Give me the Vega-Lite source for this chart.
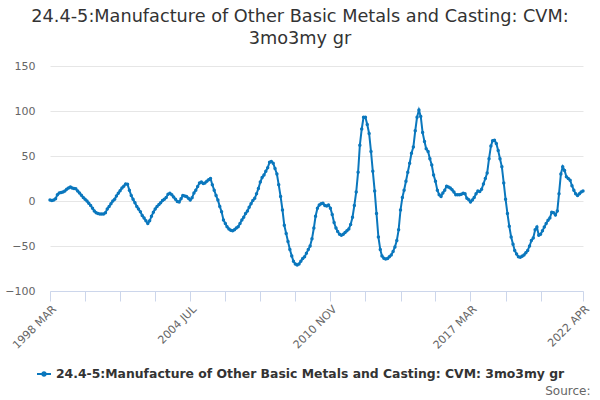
{
  "$schema": "https://vega.github.io/schema/vega-lite/v6.json",
  "autosize": "none",
  "width": 533,
  "height": 225,
  "padding": {"left": 50, "top": 66, "right": 17, "bottom": 109},
  "background": "white",
  "title": {
    "text": ["24.4-5:Manufacture of Other Basic Metals and Casting: CVM:", "3mo3my gr"],
    "anchor": "middle",
    "dx": -16.5,
    "offset": 12,
    "font": "DejaVu Sans",
    "fontSize": 17.7,
    "fontWeight": "normal",
    "color": "#333333",
    "lineHeight": 22
  },
  "data": {
    "format": {"parse": {"m": "utc:'%Y-%m'"}},
    "values": [
      {"m":"1998-03","v":1},{"m":"1998-04","v":0.5},{"m":"1998-05","v":1},{"m":"1998-06","v":2.5},{"m":"1998-07","v":7},{"m":"1998-08","v":9},{"m":"1998-09","v":9.5},{"m":"1998-10","v":10},{"m":"1998-11","v":11},{"m":"1998-12","v":13},
      {"m":"1999-01","v":14.5},{"m":"1999-02","v":15.5},{"m":"1999-03","v":14.5},{"m":"1999-04","v":14},{"m":"1999-05","v":13.5},{"m":"1999-06","v":11},{"m":"1999-07","v":9},{"m":"1999-08","v":6.5},{"m":"1999-09","v":4},{"m":"1999-10","v":2},{"m":"1999-11","v":0},{"m":"1999-12","v":-2.5},
      {"m":"2000-01","v":-5},{"m":"2000-02","v":-8},{"m":"2000-03","v":-11},{"m":"2000-04","v":-13},{"m":"2000-05","v":-14},{"m":"2000-06","v":-14.5},{"m":"2000-07","v":-14.5},{"m":"2000-08","v":-14.5},{"m":"2000-09","v":-13},{"m":"2000-10","v":-9},{"m":"2000-11","v":-6},{"m":"2000-12","v":-3},
      {"m":"2001-01","v":0},{"m":"2001-02","v":2},{"m":"2001-03","v":5.5},{"m":"2001-04","v":8.5},{"m":"2001-05","v":11.5},{"m":"2001-06","v":14.5},{"m":"2001-07","v":16.5},{"m":"2001-08","v":19},{"m":"2001-09","v":18.5},{"m":"2001-10","v":12},{"m":"2001-11","v":6},{"m":"2001-12","v":2},
      {"m":"2002-01","v":-2},{"m":"2002-02","v":-6},{"m":"2002-03","v":-9},{"m":"2002-04","v":-12},{"m":"2002-05","v":-16},{"m":"2002-06","v":-19},{"m":"2002-07","v":-22},{"m":"2002-08","v":-25},{"m":"2002-09","v":-22},{"m":"2002-10","v":-17},{"m":"2002-11","v":-12.5},{"m":"2002-12","v":-9},
      {"m":"2003-01","v":-6},{"m":"2003-02","v":-4},{"m":"2003-03","v":-2},{"m":"2003-04","v":0.5},{"m":"2003-05","v":2},{"m":"2003-06","v":4},{"m":"2003-07","v":7.5},{"m":"2003-08","v":8.5},{"m":"2003-09","v":7},{"m":"2003-10","v":4.5},{"m":"2003-11","v":2},{"m":"2003-12","v":-0.5},
      {"m":"2004-01","v":-1},{"m":"2004-02","v":2.5},{"m":"2004-03","v":6},{"m":"2004-04","v":5.5},{"m":"2004-05","v":5},{"m":"2004-06","v":3},{"m":"2004-07","v":1},{"m":"2004-08","v":3.5},{"m":"2004-09","v":9},{"m":"2004-10","v":12},{"m":"2004-11","v":16},{"m":"2004-12","v":20},
      {"m":"2005-01","v":21},{"m":"2005-02","v":19.5},{"m":"2005-03","v":20},{"m":"2005-04","v":22},{"m":"2005-05","v":23.5},{"m":"2005-06","v":25},{"m":"2005-07","v":18},{"m":"2005-08","v":12},{"m":"2005-09","v":6},{"m":"2005-10","v":1},{"m":"2005-11","v":-6},{"m":"2005-12","v":-12},
      {"m":"2006-01","v":-21},{"m":"2006-02","v":-25},{"m":"2006-03","v":-28.5},{"m":"2006-04","v":-31},{"m":"2006-05","v":-32.5},{"m":"2006-06","v":-33},{"m":"2006-07","v":-32},{"m":"2006-08","v":-30},{"m":"2006-09","v":-28.5},{"m":"2006-10","v":-25},{"m":"2006-11","v":-21},{"m":"2006-12","v":-18},
      {"m":"2007-01","v":-14},{"m":"2007-02","v":-11},{"m":"2007-03","v":-7},{"m":"2007-04","v":-3},{"m":"2007-05","v":0.5},{"m":"2007-06","v":3},{"m":"2007-07","v":8},{"m":"2007-08","v":14},{"m":"2007-09","v":21},{"m":"2007-10","v":26},{"m":"2007-11","v":29},{"m":"2007-12","v":33},
      {"m":"2008-01","v":37},{"m":"2008-02","v":43},{"m":"2008-03","v":44},{"m":"2008-04","v":42},{"m":"2008-05","v":36},{"m":"2008-06","v":30},{"m":"2008-07","v":18},{"m":"2008-08","v":5},{"m":"2008-09","v":-10},{"m":"2008-10","v":-27},{"m":"2008-11","v":-36},{"m":"2008-12","v":-45},
      {"m":"2009-01","v":-54},{"m":"2009-02","v":-61},{"m":"2009-03","v":-67},{"m":"2009-04","v":-70},{"m":"2009-05","v":-71},{"m":"2009-06","v":-70},{"m":"2009-07","v":-67},{"m":"2009-08","v":-64},{"m":"2009-09","v":-62},{"m":"2009-10","v":-58},{"m":"2009-11","v":-54},{"m":"2009-12","v":-50},
      {"m":"2010-01","v":-42},{"m":"2010-02","v":-30},{"m":"2010-03","v":-17},{"m":"2010-04","v":-8},{"m":"2010-05","v":-4.5},{"m":"2010-06","v":-3},{"m":"2010-07","v":-2.5},{"m":"2010-08","v":-5},{"m":"2010-09","v":-5.5},{"m":"2010-10","v":-4.5},{"m":"2010-11","v":-8},{"m":"2010-12","v":-15},
      {"m":"2011-01","v":-24},{"m":"2011-02","v":-30},{"m":"2011-03","v":-34},{"m":"2011-04","v":-37},{"m":"2011-05","v":-38},{"m":"2011-06","v":-37},{"m":"2011-07","v":-35},{"m":"2011-08","v":-33},{"m":"2011-09","v":-31},{"m":"2011-10","v":-26},{"m":"2011-11","v":-18},{"m":"2011-12","v":-5},
      {"m":"2012-01","v":10},{"m":"2012-02","v":32},{"m":"2012-03","v":62},{"m":"2012-04","v":80},{"m":"2012-05","v":93},{"m":"2012-06","v":93},{"m":"2012-07","v":85},{"m":"2012-08","v":75},{"m":"2012-09","v":55},{"m":"2012-10","v":33},{"m":"2012-11","v":11},{"m":"2012-12","v":-14},
      {"m":"2013-01","v":-40},{"m":"2013-02","v":-54},{"m":"2013-03","v":-61},{"m":"2013-04","v":-63.5},{"m":"2013-05","v":-64.5},{"m":"2013-06","v":-64},{"m":"2013-07","v":-62},{"m":"2013-08","v":-60},{"m":"2013-09","v":-56},{"m":"2013-10","v":-51},{"m":"2013-11","v":-44},{"m":"2013-12","v":-32},
      {"m":"2014-01","v":-10},{"m":"2014-02","v":4},{"m":"2014-03","v":12},{"m":"2014-04","v":22},{"m":"2014-05","v":32},{"m":"2014-06","v":42},{"m":"2014-07","v":53},{"m":"2014-08","v":60},{"m":"2014-09","v":78},{"m":"2014-10","v":93},{"m":"2014-11","v":101},{"m":"2014-12","v":94},
      {"m":"2015-01","v":76},{"m":"2015-02","v":66},{"m":"2015-03","v":58},{"m":"2015-04","v":55},{"m":"2015-05","v":47},{"m":"2015-06","v":40},{"m":"2015-07","v":29},{"m":"2015-08","v":22},{"m":"2015-09","v":12},{"m":"2015-10","v":7},{"m":"2015-11","v":5},{"m":"2015-12","v":9},
      {"m":"2016-01","v":12},{"m":"2016-02","v":16.5},{"m":"2016-03","v":15.5},{"m":"2016-04","v":14.5},{"m":"2016-05","v":12.5},{"m":"2016-06","v":10},{"m":"2016-07","v":7},{"m":"2016-08","v":7},{"m":"2016-09","v":7},{"m":"2016-10","v":7.5},{"m":"2016-11","v":8.5},{"m":"2016-12","v":8},
      {"m":"2017-01","v":3},{"m":"2017-02","v":1.5},{"m":"2017-03","v":-1},{"m":"2017-04","v":1},{"m":"2017-05","v":4},{"m":"2017-06","v":8},{"m":"2017-07","v":11},{"m":"2017-08","v":10.5},{"m":"2017-09","v":13},{"m":"2017-10","v":19},{"m":"2017-11","v":25},{"m":"2017-12","v":31},
      {"m":"2018-01","v":47},{"m":"2018-02","v":61},{"m":"2018-03","v":67},{"m":"2018-04","v":67.5},{"m":"2018-05","v":64},{"m":"2018-06","v":56},{"m":"2018-07","v":47},{"m":"2018-08","v":38},{"m":"2018-09","v":20},{"m":"2018-10","v":2},{"m":"2018-11","v":-14},{"m":"2018-12","v":-28},
      {"m":"2019-01","v":-40},{"m":"2019-02","v":-48},{"m":"2019-03","v":-55},{"m":"2019-04","v":-59},{"m":"2019-05","v":-62},{"m":"2019-06","v":-62.5},{"m":"2019-07","v":-61.5},{"m":"2019-08","v":-60},{"m":"2019-09","v":-57.5},{"m":"2019-10","v":-55},{"m":"2019-11","v":-50},{"m":"2019-12","v":-44},
      {"m":"2020-01","v":-41},{"m":"2020-02","v":-32},{"m":"2020-03","v":-29},{"m":"2020-04","v":-38},{"m":"2020-05","v":-37},{"m":"2020-06","v":-33},{"m":"2020-07","v":-29},{"m":"2020-08","v":-25},{"m":"2020-09","v":-21.5},{"m":"2020-10","v":-19},{"m":"2020-11","v":-12.5},{"m":"2020-12","v":-13},
      {"m":"2021-01","v":-15.5},{"m":"2021-02","v":-11},{"m":"2021-03","v":8},{"m":"2021-04","v":30},{"m":"2021-05","v":38},{"m":"2021-06","v":34},{"m":"2021-07","v":27},{"m":"2021-08","v":25},{"m":"2021-09","v":23},{"m":"2021-10","v":17},{"m":"2021-11","v":12},{"m":"2021-12","v":8},
      {"m":"2022-01","v":6},{"m":"2022-02","v":8},{"m":"2022-03","v":10},{"m":"2022-04","v":11}
    ]
  },
  "mark": {
    "type": "line",
    "strokeWidth": 2,
    "point": {"filled": true, "size": 12},
    "clip": false
  },
  "encoding": {
    "x": {
      "field": "m",
      "type": "temporal",
      "scale": {"type": "utc", "domain": [{"year": 1998, "month": 3, "date": 1, "utc": true}, {"year": 2022, "month": 4, "date": 1, "utc": true}], "nice": false},
      "axis": {
        "values": [
          {"year": 1998, "month": 3, "date": 1, "utc": true},
          {"year": 1999, "month": 10, "date": 1, "utc": true},
          {"year": 2001, "month": 5, "date": 1, "utc": true},
          {"year": 2002, "month": 12, "date": 1, "utc": true},
          {"year": 2004, "month": 7, "date": 1, "utc": true},
          {"year": 2006, "month": 2, "date": 1, "utc": true},
          {"year": 2007, "month": 9, "date": 1, "utc": true},
          {"year": 2009, "month": 4, "date": 1, "utc": true},
          {"year": 2010, "month": 11, "date": 1, "utc": true},
          {"year": 2012, "month": 6, "date": 1, "utc": true},
          {"year": 2014, "month": 1, "date": 1, "utc": true},
          {"year": 2015, "month": 8, "date": 1, "utc": true},
          {"year": 2017, "month": 3, "date": 1, "utc": true},
          {"year": 2018, "month": 10, "date": 1, "utc": true},
          {"year": 2020, "month": 5, "date": 1, "utc": true},
          {"year": 2022, "month": 4, "date": 1, "utc": true}
        ],
        "labelExpr": "(upper(utcFormat(datum.value, '%Y %b')) == '1998 MAR' || upper(utcFormat(datum.value, '%Y %b')) == '2004 JUL' || upper(utcFormat(datum.value, '%Y %b')) == '2010 NOV' || upper(utcFormat(datum.value, '%Y %b')) == '2017 MAR' || upper(utcFormat(datum.value, '%Y %b')) == '2022 APR') ? upper(utcFormat(datum.value, '%Y %b')) : ''",
        "labelAngle": -45,
        "labelAlign": "right",
        "labelBaseline": "top",
        "labelFont": "DejaVu Sans",
        "labelFontSize": 11,
        "labelColor": "#666666",
        "labelPadding": 2,
        "labelOverlap": false,
        "labelFlush": false,
        "grid": false,
        "domainColor": "#ccd6eb",
        "tickColor": "#ccd6eb",
        "tickSize": 10,
        "title": "Source:",
        "titleFont": "DejaVu Sans",
        "titleFontSize": 12,
        "titleFontWeight": "normal",
        "titleColor": "#666666",
        "titleAnchor": "end",
        "titleAlign": "right",
        "titleBaseline": "middle",
        "titleX": 540,
        "titleY": 99
      }
    },
    "y": {
      "field": "v",
      "type": "quantitative",
      "scale": {"domain": [-100, 150], "nice": false, "zero": false},
      "axis": {
        "values": [-100, -50, 0, 50, 100, 150],
        "title": null,
        "domain": false,
        "ticks": false,
        "grid": true,
        "gridColor": "#e6e6e6",
        "labelFont": "DejaVu Sans",
        "labelFontSize": 11,
        "labelColor": "#666666",
        "labelPadding": 15
      }
    },
    "color": {
      "datum": "24.4-5:Manufacture of Other Basic Metals and Casting: CVM: 3mo3my gr",
      "scale": {"range": ["#0a77bd"]},
      "legend": {
        "title": null,
        "orient": "none",
        "legendX": -14,
        "legendY": 300,
        "symbolType": "M-1,0H1M-0.25,0A0.25,0.25,0,1,1,0.25,0A0.25,0.25,0,1,1,-0.25,0Z",
        "symbolSize": 196,
        "symbolStrokeWidth": 2,
        "symbolFillColor": "#0a77bd",
        "symbolStrokeColor": "#0a77bd",
        "labelFont": "DejaVu Sans",
        "labelFontSize": 12.4,
        "labelFontWeight": "bold",
        "labelColor": "#333333",
        "labelLimit": 0
      }
    }
  },
  "config": {"view": {"stroke": null}}
}
